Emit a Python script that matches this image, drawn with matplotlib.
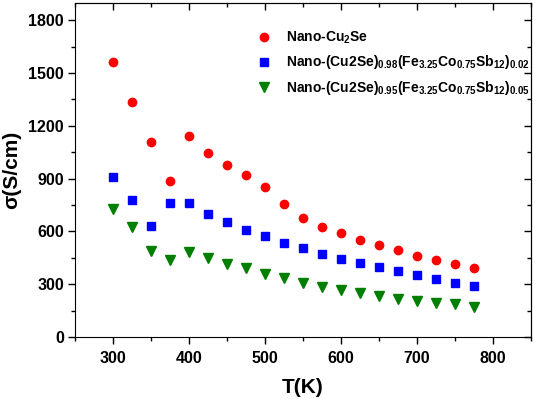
import matplotlib
matplotlib.use('Agg')
import matplotlib.pyplot as plt
from matplotlib.ticker import MultipleLocator

plt.rcParams['font.family'] = ['Liberation Sans', 'DejaVu Sans']
plt.rcParams['font.weight'] = 'bold'
plt.rcParams['mathtext.fontset'] = 'custom'
plt.rcParams['mathtext.rm'] = 'Liberation Sans:bold'
plt.rcParams['mathtext.bf'] = 'Liberation Sans:bold'
plt.rcParams['mathtext.default'] = 'bf'

# temperatures (K)
temp = [300, 325, 350, 375, 400, 425, 450, 475, 500, 525,
        550, 575, 600, 625, 650, 675, 700, 725, 750, 775]

# conductivity (S/cm)
sigma_cu2se = [1563, 1336, 1109, 884, 1145, 1047, 978, 922, 852, 757,
               674, 625, 589, 551, 521, 494, 462, 439, 417, 394]
sigma_002 = [910, 778, 632, 759, 763, 698, 653, 608, 574, 536,
             504, 472, 445, 419, 396, 373, 350, 330, 309, 288]
sigma_005 = [728, 628, 486, 435, 482, 450, 417, 390, 358, 333,
             309, 286, 267, 248, 233, 214, 205, 195, 186, 170]

labels = ['Nano-Cu$_2$Se',
          'Nano-(Cu2Se)$_{0.98}$(Fe$_{3.25}$Co$_{0.75}$Sb$_{12}$)$_{0.02}$',
          'Nano-(Cu2Se)$_{0.95}$(Fe$_{3.25}$Co$_{0.75}$Sb$_{12}$)$_{0.05}$']

fig = plt.figure(figsize=(5.33, 3.99), dpi=100)
ax = fig.add_axes([0.1407, 0.1554, 0.8555, 0.8378])

ax.plot(temp, sigma_cu2se, 'o', color='#ff0000', markersize=6, label=labels[0])
ax.plot(temp, sigma_002, 's', color='#0000ff', markersize=5.2, label=labels[1])
ax.plot(temp, sigma_005, 'v', color='#007f00', markersize=6.5, label=labels[2])

ax.set_xlim(250, 850)
ax.set_ylim(0, 1900)
ax.xaxis.set_major_locator(MultipleLocator(100))
ax.xaxis.set_minor_locator(MultipleLocator(50))
ax.yaxis.set_major_locator(MultipleLocator(300))
ax.yaxis.set_minor_locator(MultipleLocator(150))
ax.tick_params(which='major', direction='out', length=5, width=1, labelsize=11.5, pad=3)
ax.tick_params(axis='x', which='major', pad=5)
ax.tick_params(which='minor', direction='out', length=3, width=1)
for lab in ax.get_xticklabels() + ax.get_yticklabels():
    lab.set_fontweight('bold')

# mirrored ticks pointing inwards on top and right
top = ax.secondary_xaxis('top')
top.xaxis.set_major_locator(MultipleLocator(100))
top.xaxis.set_minor_locator(MultipleLocator(50))
top.tick_params(which='major', direction='in', length=5, width=1, labeltop=False)
top.tick_params(which='minor', direction='in', length=3, width=1)
right = ax.secondary_yaxis('right')
right.yaxis.set_major_locator(MultipleLocator(300))
right.yaxis.set_minor_locator(MultipleLocator(150))
right.tick_params(which='major', direction='in', length=5, width=1, labelright=False)
right.tick_params(which='minor', direction='in', length=3, width=1)

ax.set_xlabel('T(K)', fontsize=15, fontweight='bold', labelpad=9)
ax.set_ylabel('σ(S/cm)', fontsize=15, fontweight='bold', labelpad=5)

ax.legend(loc='upper left', bbox_to_anchor=(0.40, 0.92), frameon=False,
          fontsize=10, borderpad=0, borderaxespad=0, handlelength=1.0,
          handletextpad=1.05, labelspacing=0.55)

fig.savefig('out.png', dpi=100)
